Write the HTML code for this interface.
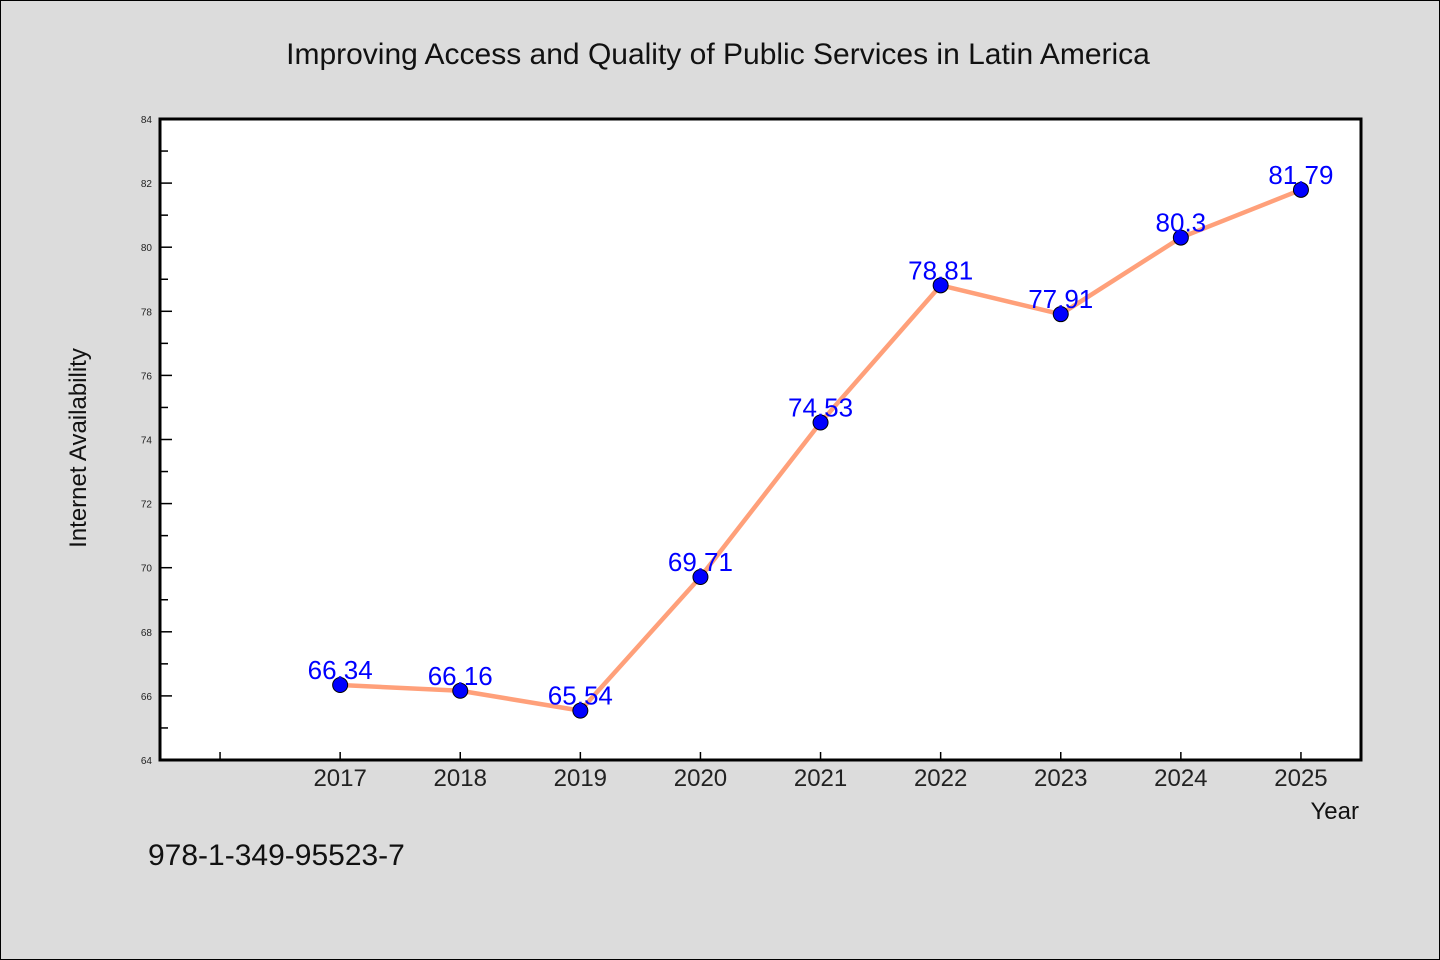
<!DOCTYPE html>
<html><head><meta charset="utf-8"><style>
html,body{margin:0;padding:0;background:#dcdcdc;}
svg{display:block;font-family:"WenQuanYi Zen Hei","Liberation Sans",sans-serif;}
</style></head><body>
<svg id="chart" width="1440" height="960">
<rect x="0.5" y="0.5" width="1439" height="959" fill="#dcdcdc" stroke="#000"/>
<text x="718" y="64" text-anchor="middle" font-size="30" fill="#111">Improving Access and Quality of Public Services in Latin America</text>
<rect x="160" y="119" width="1201" height="641" fill="#fff"/>
<g id="grid"></g>
<g id="marks"></g>
<rect x="160" y="119" width="1201" height="641" fill="none" stroke="#000" stroke-width="3"/>
<text transform="translate(86,448) rotate(-90)" text-anchor="middle" font-size="24" fill="#111">Internet Availability</text>
<text x="1359" y="819" text-anchor="end" font-size="24" fill="#111">Year</text>
<text x="148" y="865" font-size="30" fill="#111">978-1-349-95523-7</text>
</svg>
<script>
const years = [2017,2018,2019,2020,2021,2022,2023,2024,2025];
const values = [66.34,66.16,65.54,69.71,74.53,78.81,77.91,80.3,81.79];
const labels = ["66.34","66.16","65.54","69.71","74.53","78.81","77.91","80.3","81.79"];
const yTicks = [64,66,68,70,72,74,76,78,80,82,84];
const xTicks = [2016,2017,2018,2019,2020,2021,2022,2023,2024,2025];
const NS="http://www.w3.org/2000/svg";
const X0=160,X1=1361,Y0=760,Y1=119,XMIN=2015.5,XMAX=2025.5,YMIN=64,YMAX=84;
function sx(v){return X0+(v-XMIN)/(XMAX-XMIN)*(X1-X0);}
function sy(v){return Y0-(v-YMIN)/(YMAX-YMIN)*(Y0-Y1);}
function mk(t,a,p){const e=document.createElementNS(NS,t);for(const k in a)e.setAttribute(k,a[k]);p.appendChild(e);return e;}
const g=document.getElementById('grid'),m=document.getElementById('marks');
yTicks.forEach((v,i)=>{
  const t=mk('line',{x1:X0,x2:X0+12,y1:sy(v),y2:sy(v),stroke:'#000','stroke-width':1.5},g);
  
  
  const l=mk('text',{x:X0-8,y:sy(v)+4,'text-anchor':'end','font-size':10,fill:'#222'},g);
  l.textContent=v;
  
  
  if(i<yTicks.length-1){
    const mv=v+1;
    const n=mk('line',{x1:X0,x2:X0+8,y1:sy(mv),y2:sy(mv),stroke:'#000','stroke-width':1.5},g);
    
    
  }
});
xTicks.forEach(v=>{
  const t=mk('line',{x1:sx(v),x2:sx(v),y1:Y0,y2:Y0-8,stroke:'#000','stroke-width':1.5},g);
  
  
  if(years.includes(v)){
    const l=mk('text',{x:sx(v),y:Y0+26,'text-anchor':'middle','font-size':24,fill:'#222'},g);
    l.textContent=v;
    
    
  }
});
const pts=years.map((y,i)=>sx(y)+','+sy(values[i])).join(' ');
const line=mk('polyline',{points:pts,fill:'none',stroke:'#ffa07a','stroke-width':4.5,'stroke-linejoin':'round'},m);


years.forEach((y,i)=>{
  const c=mk('circle',{cx:sx(y),cy:sy(values[i]),r:7.5,fill:'#0000ff',stroke:'#000','stroke-width':1},m);
  
  
});
years.forEach((y,i)=>{
  const t=mk('text',{x:sx(y),y:sy(values[i])-6,'text-anchor':'middle','font-size':26,fill:'#0000ff'},m);
  t.textContent=labels[i];
  
  
});
</script>
</body></html>
